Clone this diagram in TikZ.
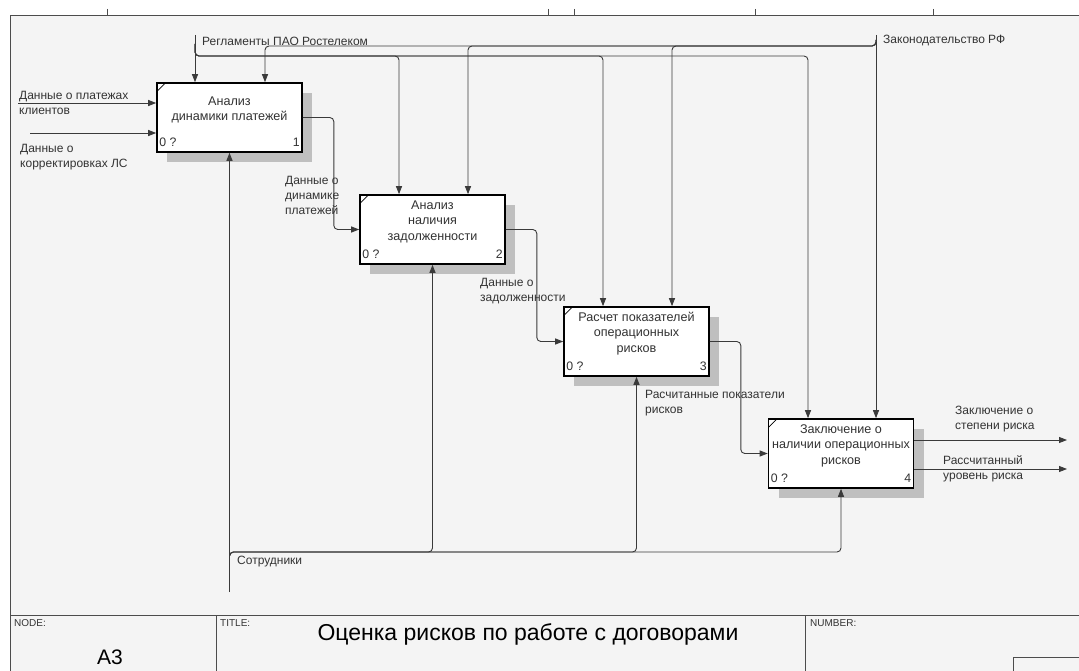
\documentclass[tikz,border=0pt]{standalone}
\usepackage{fontspec}
\setmainfont{Liberation Sans}
\usetikzlibrary{arrows.meta,calc,shadows}
\definecolor{bg}{HTML}{F4F4F4}
\definecolor{ln}{HTML}{3A3A3A}
\definecolor{tx}{HTML}{333333}
\tikzset{
  conn/.style={draw=ln, line width=0.9pt, -{Triangle[length=8pt,width=6pt]}, rounded corners=4pt},
  frame/.style={draw=black!70, line width=0.9pt},
  box/.style={draw=black, line width=1.6pt, fill=white, minimum width=145pt, minimum height=69pt, inner sep=0pt,
    drop shadow={shadow xshift=10pt, shadow yshift=-10pt, fill=gray!50, opacity=1}},
  boxtext/.style={font=\fontsize{12.6}{15.5}\selectfont, text=tx, align=center, inner sep=0pt},
  corner/.style={font=\fontsize{12.3}{13}\selectfont, text=tx, inner sep=0pt},
  lab/.style={font=\fontsize{12}{15}\selectfont, text=tx, align=left, anchor=west, inner sep=0pt},
  small/.style={font=\fontsize{10}{11}\selectfont, text=tx, anchor=north west, inner sep=0pt}
}
\begin{document}
\begin{tikzpicture}[x=1pt,y=-1pt]
\useasboundingbox (0,0) rectangle (1079,671);
\fill[white] (0,0) rectangle (1079,671);
\fill[bg] (10,15) rectangle (1079,671);
% frame
\draw[frame] (10,671) -- (10,15) -- (1079,15);
\foreach \t in {107,548,574,755,933} \draw[frame] (\t,9) -- (\t,15);
\draw[frame] (10,615) -- (1079,615);
\draw[frame] (216,615) -- (216,671);
\draw[frame] (805,615) -- (805,671);
\draw[frame] (1013,671) -- (1013,657) -- (1079,657);
\node[small] (nodelab) at (14,619) {NODE:};
\node[small] (titlelab) at (220,619) {TITLE:};
\node[small] (numlab) at (810,619) {NUMBER:};
\node[font=\fontsize{21}{24}\selectfont, text=black, inner sep=0pt] (nodeno) at (110,657) {A3};
\node[font=\fontsize{23}{26}\selectfont, text=black, inner sep=0pt] (title) at (528,634) {Оценка рисков по работе с договорами};

% boxes
\node[box] (b1) at (229.5,117.5) {};
\node[box] (b2) at (432.5,229.5) {};
\node[box] (b3) at (636.5,341.5) {};
\node[box] (b4) at (841,453.5) {};
\foreach \b/\n in {b1/1,b2/2,b3/3,b4/4}{
  \draw[black, line width=0.8pt] ($(\b.north west)+(1,9)$) -- ($(\b.north west)+(9,1)$);
  \node[corner, anchor=base west] at ($(\b.south west)+(3,-6)$) {0 ?};
  \node[corner, anchor=base east] at ($(\b.south east)+(-3,-6)$) {\n};
}
\node[boxtext] (t1) at ($(b1.north)+(0,27.5)$) {Анализ\\динамики платежей};
\node[boxtext] (t2) at ($(b2.north)+(0,27.5)$) {Анализ\\наличия\\задолженности};
\node[boxtext] (t3) at ($(b3.north)+(0,27)$) {Расчет показателей\\операционных\\рисков};
\node[boxtext] (t4) at ($(b4.north)+(0,27.5)$) {Заключение о\\наличии операционных\\рисков};

% inputs
\coordinate (in1) at (18,103);
\coordinate (in2) at (30,133);
\draw[conn] (in1) -- ($(b1.west)+(0,-14.5)$);
\draw[conn] (in2) -- ($(b1.west)+(0,15.5)$);
\node[lab] (l1) at (19,102.5) {Данные о платежах\\клиентов};
\node[lab] (l2) at (20,157.5) {Данные о\\корректировках ЛС};

% controls: Регламенты
\coordinate (reg) at (195,35);
\draw[conn] (reg) -- ($(b1.north)+(-34.5,0)$);
\draw[conn] (195,44) |- (399,56) -- ($(b2.north)+(-33.5,0)$);
\draw[conn] (195,44) |- (603,56) -- ($(b3.north)+(-33.5,0)$);
\draw[conn] (195,44) |- (808,56) -- ($(b4.north)+(-33,0)$);
\node[lab] (lreg) at (202,41) {Регламенты ПАО Ростелеком};
% controls: Законодательство
\coordinate (zak) at (876,35);
\draw[conn] (zak) -- ($(b4.north)+(35,0)$);
\draw[conn] (876,40) |- (672,46) -- ($(b3.north)+(35.5,0)$);
\draw[conn] (876,40) |- (468,46) -- ($(b2.north)+(35.5,0)$);
\draw[conn] (876,40) |- (265,46) -- ($(b1.north)+(35.5,0)$);
\node[lab] (lzak) at (883,41) {Законодательство РФ};

% outputs between boxes
\draw[conn] (b1.east) -- ++(31,0) |- (b2.west);
\draw[conn] (b2.east) -- ++(31,0) |- (b3.west);
\draw[conn] (b3.east) -- ++(31,0) |- (b4.west);
\node[lab] (l3) at (285,195) {Данные о\\динамике\\платежей};
\node[lab] (l4) at (480,291) {Данные о\\задолженности};
\node[lab] (l5) at (645,403) {Расчитанные показатели\\рисков};

% final outputs
\coordinate (out1) at (1067,440);
\coordinate (out2) at (1067,469);
\draw[conn] ($(b4.east)+(0,-13.5)$) -- (out1);
\draw[conn] ($(b4.east)+(0,15.5)$) -- (out2);
\node[lab] (l6) at (955,419.5) {Заключение о\\степени риска};
\node[lab] (l7) at (943,468.5) {Рассчитанный\\уровень риска};

% mechanism
\coordinate (mech) at (229.5,592);
\draw[conn] (mech) -- (b1.south);
\draw[conn] (229.5,560) |- (432.5,552) -- (b2.south);
\draw[conn] (229.5,560) |- (636.5,552) -- (b3.south);
\draw[conn] (229.5,560) |- (841,552) -- (b4.south);
\node[lab] (l8) at (237,562) {Сотрудники};
\end{tikzpicture}
\end{document}
